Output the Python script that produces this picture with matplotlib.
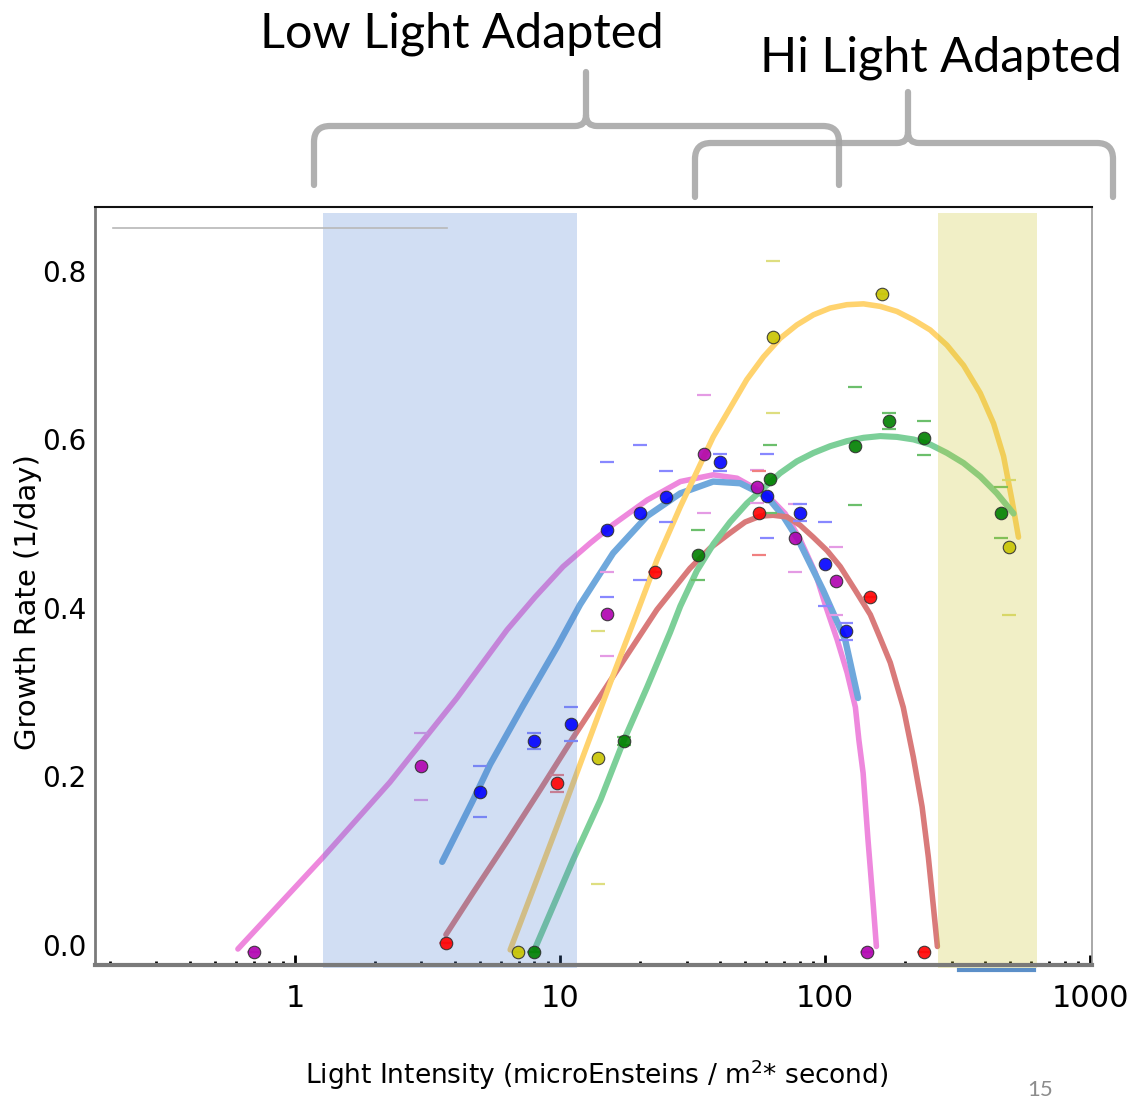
import matplotlib
matplotlib.use("Agg")
import matplotlib.pyplot as plt
import numpy as np
from matplotlib.path import Path
from matplotlib.patches import PathPatch
from matplotlib.ticker import LogLocator, NullFormatter

# ---- data ----
# measured growth rates (points) with error-cap half widths
mag_x = [0.70, 2.99, 15.0, 34.9, 55.4, 77.1, 110, 144]
mag_y = [-0.008, 0.212, 0.393, 0.583, 0.544, 0.483, 0.432, -0.008]
mag_err = [0, 0.04, 0.05, 0.07, 0.02, 0.04, 0.04, 0]

blue_x = [4.99, 7.97, 11.0, 15.0, 20.0, 25.1, 40.2, 60.4, 80.5, 100, 120]
blue_y = [0.182, 0.242, 0.262, 0.493, 0.513, 0.532, 0.573, 0.533, 0.513, 0.452, 0.372]
blue_err = [0.03, 0.01, 0.02, 0.08, 0.08, 0.03, 0.01, 0.05, 0.01, 0.05, 0.01]

red_x = [3.71, 9.75, 22.8, 56.4, 148, 236]
red_y = [0.002, 0.192, 0.443, 0.513, 0.413, -0.008]
red_err = [0, 0.01, 0, 0.05, 0, 0]

yel_x = [6.94, 13.9, 63.6, 164, 495]
yel_y = [-0.008, 0.222, 0.722, 0.773, 0.472]
yel_err = [0, 0.15, 0.09, 0, 0.08]

grn_x = [7.97, 17.4, 33.2, 62.0, 130, 174, 236, 461]
grn_y = [-0.008, 0.242, 0.463, 0.553, 0.592, 0.622, 0.602, 0.513]
grn_err = [0, 0.005, 0.03, 0.04, 0.07, 0.01, 0.02, 0.03]

# fitted curves, sampled along the drawn lines
mag_cx = [0.609, 1.276, 2.28, 4.08, 6.31, 8.05, 10.26, 13.0, 15.85, 21.3, 28.4, 37.8,
          46.5, 60.4, 70.6, 80.5, 91.7, 100, 111, 121, 130, 134, 139, 145, 152, 156]
mag_cy = [-0.005, 0.104, 0.193, 0.293, 0.374, 0.413, 0.449, 0.477, 0.499, 0.528, 0.550, 0.558,
          0.554, 0.534, 0.512, 0.481, 0.442, 0.404, 0.362, 0.323, 0.282, 0.243, 0.204, 0.125,
          0.045, -0.002]

blue_cx = [3.59, 4.70, 5.44, 7.25, 9.75, 11.9, 15.85, 21.3, 28.4, 37.8, 47.8, 60.4,
           69.4, 79.1, 98.2, 119, 133]
blue_cy = [0.0985, 0.172, 0.214, 0.284, 0.354, 0.404, 0.465, 0.509, 0.536, 0.550, 0.548, 0.532,
           0.509, 0.481, 0.421, 0.362, 0.293]

red_cx = [3.71, 4.70, 6.31, 8.41, 11.2, 17.3, 23.2, 30.9, 36.8, 43.8, 49.9, 56.9, 63.6,
          71.9, 80.5, 90.1, 101.7, 114, 129.8, 148, 161.3, 176, 197, 215, 232, 245, 256, 265]
red_cy = [0.012, 0.062, 0.123, 0.184, 0.246, 0.337, 0.398, 0.447, 0.471, 0.489, 0.502, 0.509, 0.510,
          0.508, 0.498, 0.484, 0.468, 0.449, 0.421, 0.392, 0.364, 0.335, 0.282, 0.223, 0.164,
          0.104, 0.045, -0.002]

yel_cx = [6.48, 9.75, 13.0, 15.85, 19.5, 23.2, 28.4, 37.8, 50.6, 58.5, 67.6, 78.2, 90.3,
          104.4, 120.7, 139.5, 161.3, 186.5, 215.4, 249, 287.8, 332.6, 384.6, 431.7, 470.8,
          506.4, 536]
yel_cy = [-0.006, 0.141, 0.247, 0.320, 0.394, 0.457, 0.520, 0.603, 0.671, 0.698, 0.720, 0.736, 0.748,
          0.756, 0.760, 0.761, 0.758, 0.752, 0.742, 0.730, 0.712, 0.688, 0.655, 0.619, 0.580,
          0.528, 0.484]

grn_cx = [8.05, 11.2, 14.2, 17.3, 21.3, 26.0, 28.4, 32.8, 37.9, 43.8, 50.6, 58.5, 67.6,
          78.2, 90.3, 104.4, 120.7, 139.5, 161.3, 186.5, 215.4, 249, 287.8, 332.6, 384.6,
          444.4, 513.5]
grn_cy = [-0.004, 0.101, 0.172, 0.241, 0.306, 0.371, 0.402, 0.444, 0.476, 0.502, 0.524, 0.542, 0.560,
          0.574, 0.584, 0.592, 0.598, 0.602, 0.604, 0.603, 0.600, 0.594, 0.584, 0.572, 0.556,
          0.536, 0.512]

# shaded light ranges
low_band = [1.28, 11.6]
high_band = [267, 631]

x_ticks = [1, 10, 100, 1000]
x_tick_labels = ["1", "10", "100", "1000"]
y_ticks = [0.0, 0.2, 0.4, 0.6, 0.8]

W, H = 1145, 1098


def fx(px):
    return px / W


def fy(py):
    return 1 - py / H


fig = plt.figure(figsize=(W / 100, H / 100), dpi=100)
ax = fig.add_axes([fx(95), fy(965), (1092 - 95) / W, (965 - 207) / H])

# (points x, y, err, curve x, y, point colour, line colour, cap colour, line width)
series = [
    (mag_x, mag_y, mag_err, mag_cx, mag_cy, "#b000b0", "#ee88dd", "#e49be4", 4.0),
    (blue_x, blue_y, blue_err, blue_cx, blue_cy, "#0000ff", "#6fa8dc", "#8888ff", 4.6),
    (red_x, red_y, red_err, red_cx, red_cy, "#ff0000", "#d97a7a", "#f08080", 4.0),
    (yel_x, yel_y, yel_err, yel_cx, yel_cy, "#c8c400", "#ffd36e", "#dede80", 4.0),
    (grn_x, grn_y, grn_err, grn_cx, grn_cy, "#008000", "#7ccf98", "#6cbf6c", 4.4),
]

for px, py, perr, cx, cy, pcol, lcol, ecol, lw in series:
    ax.plot(cx, cy, color=lcol, lw=lw, solid_capstyle="round",
            solid_joinstyle="round", zorder=2)
    ax.errorbar(px, py, yerr=perr, fmt="none", ecolor=ecol, elinewidth=0,
                capsize=5, capthick=1.6, zorder=2.5)

# light bands drawn over the curves
ax.axvspan(low_band[0], low_band[1], ymin=-0.004, ymax=0.992, color="#4a7fd0",
           alpha=0.25, lw=0, zorder=3, clip_on=False)
ax.axvspan(high_band[0], high_band[1], ymin=-0.004, ymax=0.992, color="#c8c31e",
           alpha=0.25, lw=0, zorder=3, clip_on=False)

for px, py, perr, cx, cy, pcol, lcol, ecol, lw in series:
    ax.plot(px, py, "o", ms=9, mfc=pcol, mec="#303030", mew=0.8, alpha=0.9,
            zorder=4, clip_on=False)

# stray marks from the original slide
ax.plot([0.018, 0.353], [0.972, 0.972], transform=ax.transAxes, color="#b8b8b8",
        lw=1.2, zorder=5)
ax.plot([0.867, 0.942], [-0.006, -0.006], transform=ax.transAxes, color="#5b8fc8",
        lw=3, zorder=6, clip_on=False)

ax.set_xscale("log")
ax.set_xlim(0.176, 1015)
ax.set_ylim(-0.024, 0.876)
ax.set_xticks(x_ticks)
ax.set_xticklabels(x_tick_labels, fontsize=22)
ax.xaxis.set_minor_locator(LogLocator(base=10, subs=np.arange(2, 10), numticks=20))
ax.xaxis.set_minor_formatter(NullFormatter())
ax.set_yticks(y_ticks)
ax.set_yticklabels([f"{v:.1f}" for v in y_ticks], fontsize=20)
ax.tick_params(axis="x", which="major", direction="in", length=7, width=2,
               pad=14, color="black")
ax.tick_params(axis="x", which="minor", direction="in", length=3, width=2,
               color="black")
ax.tick_params(axis="y", length=0, pad=6)

ax.spines["top"].set_color("#111111")
ax.spines["top"].set_linewidth(1.5)
ax.spines["left"].set_color("#7a7a7a")
ax.spines["left"].set_linewidth(2)
ax.spines["right"].set_color("#9a9a9a")
ax.spines["right"].set_linewidth(1.2)
ax.spines["bottom"].set_color("#7a7a7a")
ax.spines["bottom"].set_linewidth(3)
for s in ax.spines.values():
    s.set_zorder(7)

ax.set_xlabel("Light Intensity (microEnsteins / m$^2$* second)", fontsize=19)
ax.xaxis.set_label_coords(0.5035, -0.122)
fig.text(fx(28), fy(602), "Growth Rate (1/day)", rotation=90, fontsize=21,
         family="DejaVu Sans", ha="center", va="center")


def brace(x0, x1, xm, y_tip, y_bar, y_apex, r=16, c=11):
    pts = [(x0, y_tip), (x0, y_bar + r), (x0, y_bar), (x0 + r, y_bar),
           (xm - c, y_bar), (xm, y_bar), (xm, y_bar - c), (xm, y_apex),
           (xm, y_bar - c), (xm, y_bar), (xm + c, y_bar),
           (x1 - r, y_bar), (x1, y_bar), (x1, y_bar + r), (x1, y_tip)]
    codes = [Path.MOVETO, Path.LINETO, Path.CURVE3, Path.CURVE3,
             Path.LINETO, Path.CURVE3, Path.CURVE3, Path.LINETO,
             Path.MOVETO, Path.CURVE3, Path.CURVE3,
             Path.LINETO, Path.CURVE3, Path.CURVE3, Path.LINETO]
    verts = [(fx(a), fy(b)) for a, b in pts]
    fig.patches.append(PathPatch(Path(verts, codes), transform=fig.transFigure,
                                 fill=False, edgecolor="#a2a2a2", lw=4.5,
                                 alpha=0.85, capstyle="round", joinstyle="round"))


brace(314, 839, 586, 185, 126, 72)
brace(695, 1113, 908, 197, 143, 92)

fig.text(fx(462), fy(47), "Low Light Adapted", fontsize=35, family="Lato",
         ha="center", va="baseline")
fig.text(fx(941), fy(72), "Hi Light Adapted", fontsize=35, family="Lato",
         ha="center", va="baseline")
fig.text(fx(1040), fy(1096), "15", fontsize=16, family="Lato", color="#8c8c8c",
         ha="center", va="baseline")

fig.savefig("out.png", dpi=100)
